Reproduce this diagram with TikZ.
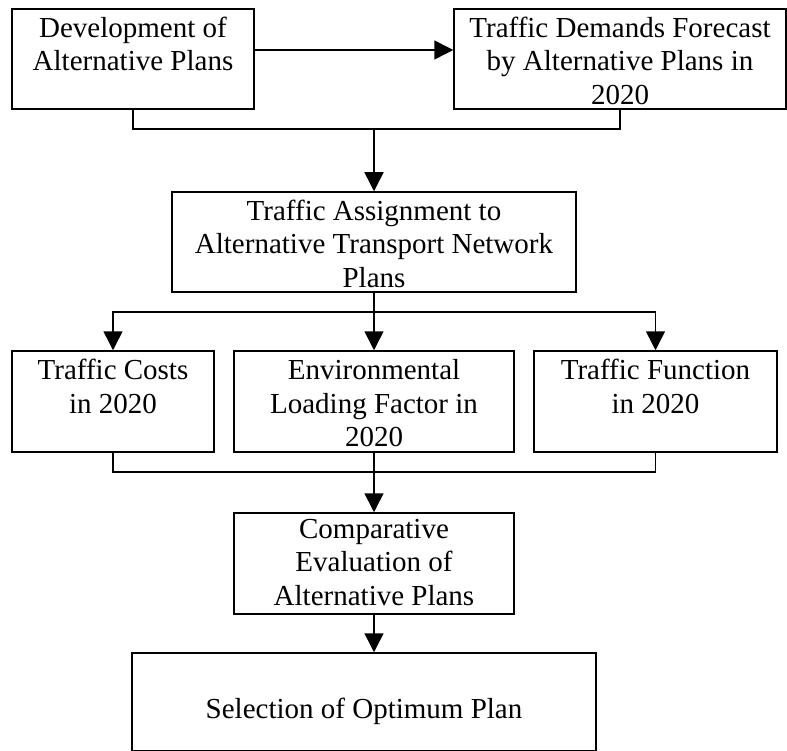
\documentclass[tikz,border=0pt]{standalone}
\usepackage{fontspec}
\setmainfont{Liberation Serif}
\usetikzlibrary{arrows.meta}
\newcommand{\boxtext}[4][28.5pt]{\parbox[c][#3][t]{#2}{\centering\rule{0pt}{#1}#4}}

\begin{document}
\begin{tikzpicture}[x=1pt, y=-1pt,
		b/.style = {rectangle, draw, line width=1.5pt, inner sep=0pt, font=\fontsize{29}{33.5}\selectfont},
		l/.style = {line width=1.5pt},
		r/.style = {-{Triangle[length=19pt, width=19pt]}, line width=1.5pt}
		]
		\useasboundingbox (0,0) rectangle (787,751);
		
		%Nodes
		\node[b]	(dev)	at	(133, 59)		{\boxtext{242pt}{100pt}{Development of\\Alternative Plans}};
		\node[b]	(dem)	at	(620, 59)		{\boxtext{332pt}{100pt}{Traffic Demands Forecast\\by Alternative Plans in\\2020}};
		\node[b]	(asg)	at	(374, 242)		{\boxtext{404pt}{100pt}{Traffic Assignment to\\Alternative Transport Network\\Plans}};
		\node[b]	(cost)	at	(113, 401.5)	{\boxtext{202pt}{101pt}{Traffic Costs\\in 2020}};
		\node[b]	(env)	at	(374, 401.5)	{\boxtext{280pt}{101pt}{Environmental\\Loading Factor in\\2020}};
		\node[b]	(func)	at	(655.5, 401.5)	{\boxtext{243pt}{101pt}{Traffic Function\\in 2020}};
		\node[b]	(comp)	at	(374, 563.5)	{\boxtext[25pt]{280pt}{101pt}{Comparative\\Evaluation of\\Alternative Plans}};
		\node[b]	(sel)	at	(364, 702)		{\boxtext[65pt]{464pt}{98pt}{Selection of Optimum Plan}};
		
		\coordinate	(a1)	at	([yshift=9pt]dev.east);
		\coordinate	(j1)	at	(374, 129);
		\coordinate	(j2)	at	(374, 312);
		\coordinate	(j3)	at	(374, 472);
		
		%Lines
		\draw[r]	(a1)		--	(a1 -| dem.west);
		\draw[l]	(dev.south)	|-	(j1)	-|	(dem.south);
		\draw[r]	(j1)		--	(asg.north);
		\draw[l]	(asg.south)	--	(j2);
		\draw[r]	(j2)		-|	(cost.north);
		\draw[r]	(j2)		--	(env.north);
		\draw[r]	(j2)		-|	(func.north);
		\draw[l]	(cost.south)	|-	(j3)	-|	(func.south);
		\draw[l]	(env.south)	--	(j3);
		\draw[r]	(j3)		--	(comp.north);
		\draw[r]	(comp.south)	--	(comp.south |- sel.north);
	\end{tikzpicture}
\end{document}
